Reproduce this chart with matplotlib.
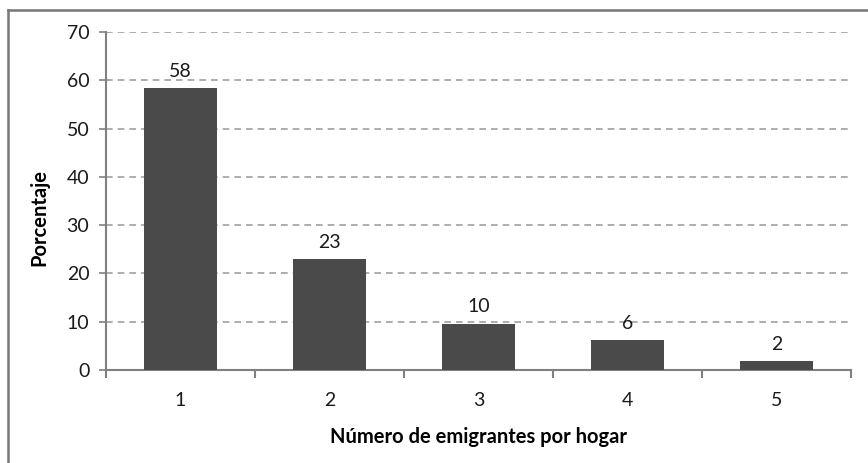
import numpy as np
import matplotlib.pyplot as plt
from matplotlib.lines import Line2D

# Data
categories = ['1', '2', '3', '4', '5']
values = [58.3, 23.0, 9.6, 6.2, 1.8]
labels = ['58', '23', '10', '6', '2']

plt.rcParams['font.family'] = ['Lato', 'DejaVu Sans']

fig = plt.figure(figsize=(8.68, 4.63), dpi=100)
ax = fig.add_axes([0.1221, 0.2009, 0.8583, 0.7300])

x = np.arange(len(categories))
ax.bar(x, values, width=0.485, color='#4a4a4a', zorder=3)

for xi, v, lab in zip(x, values, labels):
    ax.annotate(lab, (xi, v), xytext=(0, 6), textcoords='offset points',
                ha='center', va='bottom', fontsize=14, color='#1a1a1a', zorder=4)

ax.set_xlim(-0.5, len(categories) - 0.5)
ax.set_ylim(0, 70)
ax.set_yticks(range(0, 71, 10))
ax.set_xticks(x)
ax.set_xticklabels(categories)
ax.set_xticks(np.arange(-0.5, len(categories), 1), minor=True)

ax.grid(axis='y', linestyle=(0, (4, 3)), color='#a0a0a0', linewidth=1.2, zorder=0)
ax.tick_params(axis='x', which='major', length=0, pad=16, labelsize=14, colors='#1a1a1a')
ax.tick_params(axis='x', which='minor', length=6, width=1.5, color='#808080', direction='out')
ax.tick_params(axis='y', length=5, width=1.2, color='#808080', pad=7, labelsize=14, labelcolor='#1a1a1a')

for s in ['top', 'right']:
    ax.spines[s].set_visible(False)
for s in ['left', 'bottom']:
    ax.spines[s].set_color('#808080')
    ax.spines[s].set_linewidth(1.5)

ax.set_xlabel('Número de emigrantes por hogar', fontsize=14.5, fontweight='bold', labelpad=13)
ax.set_ylabel('Porcentaje', fontsize=14.5, fontweight='bold')
ax.yaxis.set_label_coords(-0.076, 0.45)

# outer chart border (top and left visible)
fig.add_artist(Line2D([8 / 868, 1], [1 - 10 / 463, 1 - 10 / 463], transform=fig.transFigure,
                      color='#777777', linewidth=1.8))
fig.add_artist(Line2D([8 / 868, 8 / 868], [0, 1 - 10 / 463], transform=fig.transFigure,
                      color='#777777', linewidth=1.8))

fig.savefig('out.png', dpi=100)
